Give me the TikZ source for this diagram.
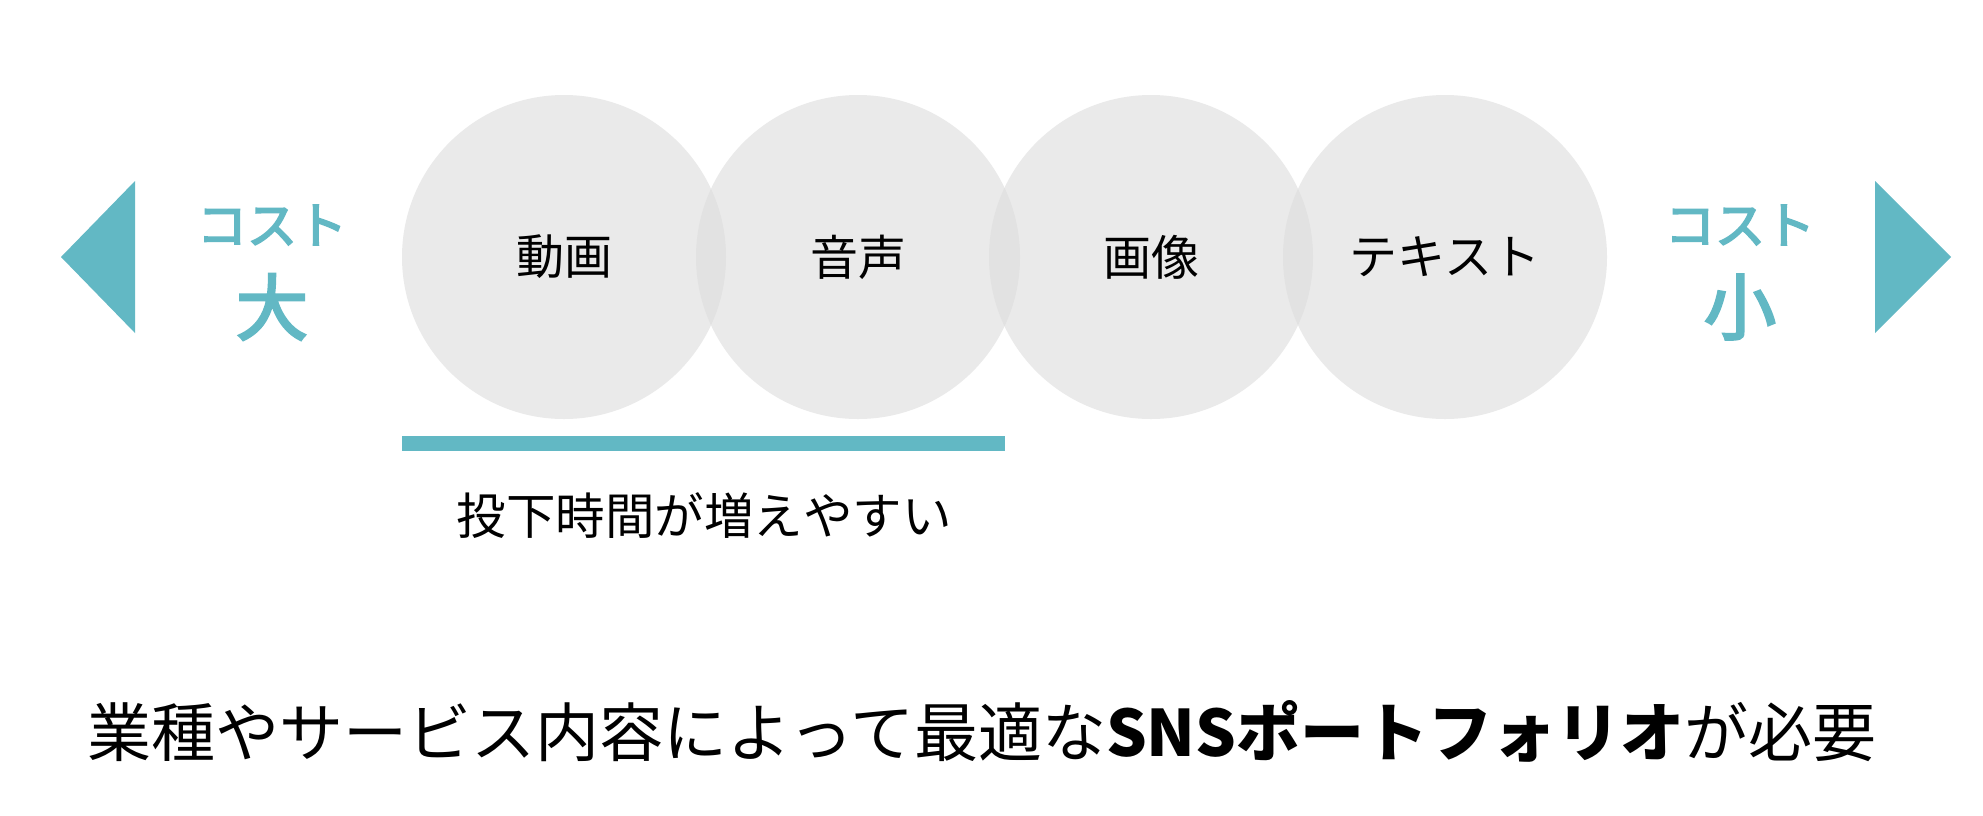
\documentclass[tikz,border=0pt]{standalone}
\usepackage{fontspec}
\newfontfamily\jp{Noto Sans CJK JP}
\newfontfamily\jpm{Noto Sans CJK JP}[FakeBold=3.5]
\definecolor{teal1}{HTML}{62B8C4}
\definecolor{gfill}{gray}{0.865}
\begin{document}
\begin{tikzpicture}[x=1pt,y=-1pt,
  bubble/.style={circle,minimum size=324pt,inner sep=0pt,fill=gfill,fill opacity=0.61,text opacity=1,font=\jp\fontsize{48}{56}\selectfont},
  costtxt/.style={text=teal1,align=center,font=\jpm\fontsize{50}{58}\selectfont},
  bigtxt/.style={text=teal1,font=\jpm\fontsize{72}{80}\selectfont},
  tri/.style={fill=teal1,draw=none}]
\useasboundingbox (0,0) rectangle (1983,815);
\fill[white] (0,0) rectangle (1983,815);
% triangles
\fill[tri] (61,257) -- (135,181) -- (135,333) -- cycle;
\fill[tri] (1951,257) -- (1875,181) -- (1875,333) -- cycle;
% cost labels
\node[costtxt] (cl) at (272,225) {コスト};
\node[bigtxt] (bl) at (272,307) {大};
\node[costtxt] (cr) at (1740,225) {コスト};
\node[bigtxt] (br) at (1740,307) {小};
% circles
\node[bubble] (c1) at (564,257) {動画};
\node[bubble] (c2) at (858,257) {音声};
\node[bubble] (c3) at (1151,257) {画像};
\node[bubble] (c4) at (1445,257) {テキスト};
% bar
\coordinate (b1) at (402,443);
\coordinate (b2) at (1005,443);
\draw[teal1,line width=15pt] (b1) -- (b2);
\node[font=\jp\fontsize{49.5}{58}\selectfont] (t1) at (704,516) {投下時間が増えやすい};
\node[font=\jp\fontsize{64}{72}\selectfont] (t2) at (982,731) {業種やサービス内容によって最適な{\bfseries SNSポートフォリオ}が必要};
\end{tikzpicture}
\end{document}
